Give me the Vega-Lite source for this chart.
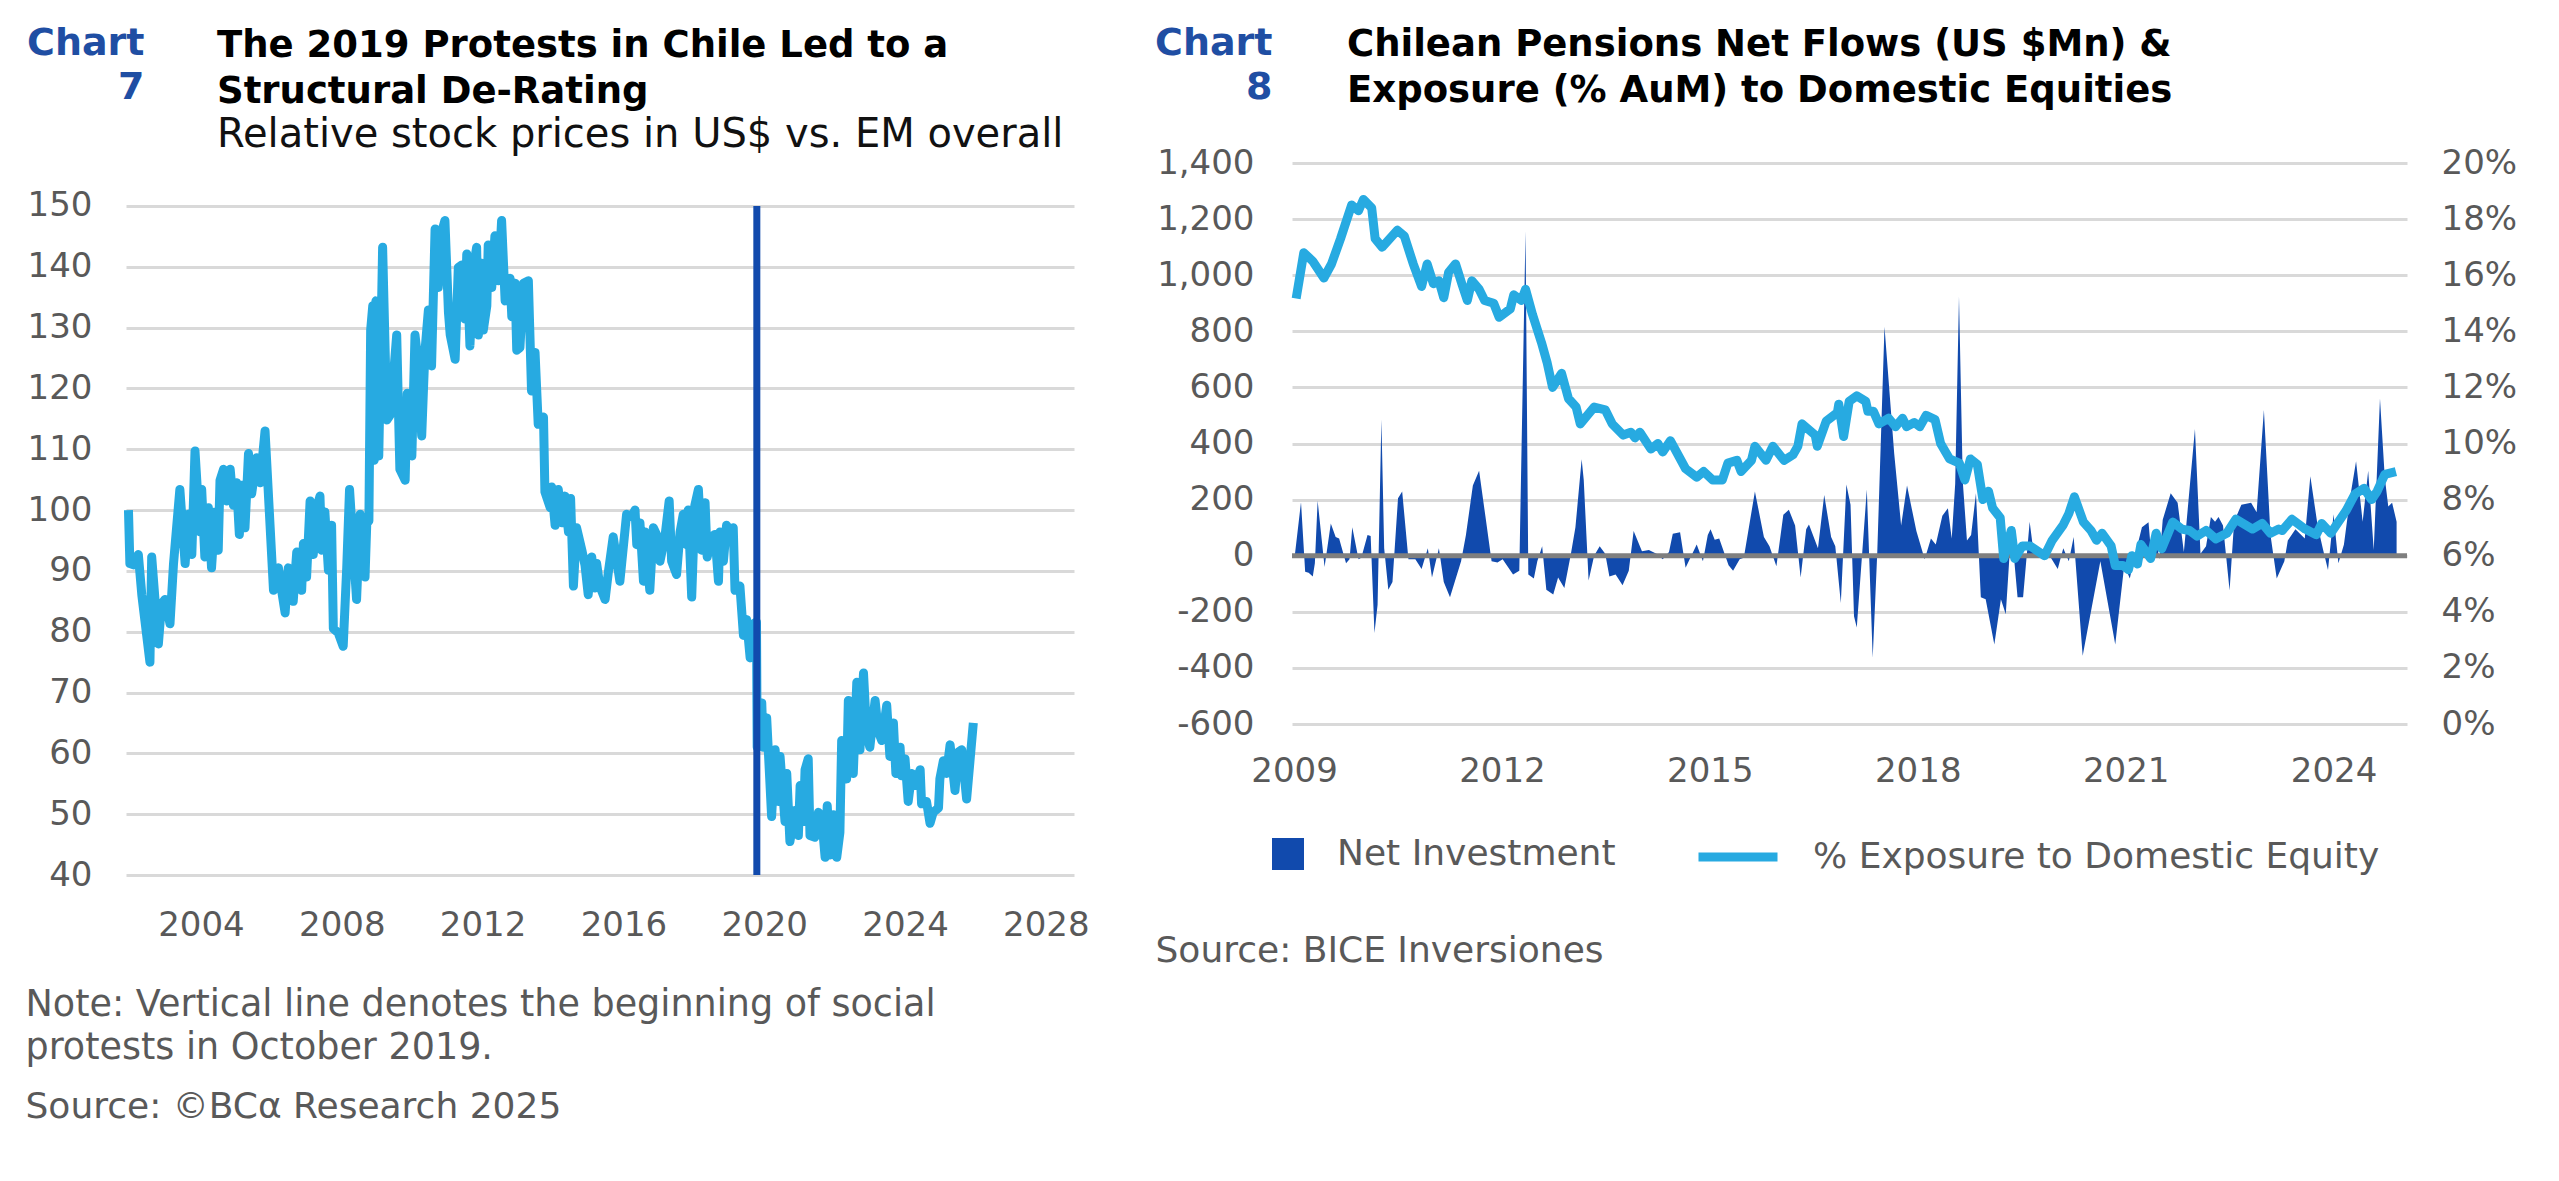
{
  "$schema": "https://vega.github.io/schema/vega-lite/v6.json",
  "background": "white",
  "padding": {"left": 25, "top": 24, "right": 10, "bottom": 10},
  "config": {
    "font": "DejaVu Sans",
    "view": {"stroke": null},
    "axis": {"labelFont": "DejaVu Sans", "labelFontSize": 34, "labelColor": "#595959", "domain": false, "ticks": false, "tickSize": 0, "grid": false, "gridColor": "#d9d9d9", "gridWidth": 3, "titleFont": "DejaVu Sans"},
    "legend": {"labelFont": "DejaVu Sans", "labelFontSize": 36, "labelColor": "#595959", "labelLimit": 2000},
    "title": {"font": "DejaVu Sans", "subtitleFont": "DejaVu Sans"}
  },
  "datasets": {
    "stock": [
      {"year":2001.94,"value":100},{"year":2001.98,"value":91.2},{"year":2002.08,"value":91},{"year":2002.22,"value":92.7},{"year":2002.32,"value":86},{"year":2002.55,"value":75},{"year":2002.6,"value":92.3},{"year":2002.79,"value":78},{"year":2002.88,"value":84.6},{"year":2002.98,"value":85.3},{"year":2003.12,"value":81.3},{"year":2003.22,"value":91.2},{"year":2003.4,"value":103.4},{"year":2003.55,"value":91.2},{"year":2003.64,"value":99.3},{"year":2003.74,"value":92.7},{"year":2003.83,"value":109.7},{"year":2003.97,"value":96.4},{"year":2004.02,"value":103.4},{"year":2004.11,"value":92.3},{"year":2004.21,"value":100.4},{"year":2004.3,"value":90.5},{"year":2004.4,"value":99.7},{"year":2004.49,"value":93.4},{"year":2004.54,"value":104.9},{"year":2004.64,"value":106.7},{"year":2004.73,"value":101.5},{"year":2004.83,"value":106.7},{"year":2004.92,"value":100.8},{"year":2005.01,"value":104.5},{"year":2005.09,"value":96},{"year":2005.16,"value":104.1},{"year":2005.25,"value":97.1},{"year":2005.35,"value":109.3},{"year":2005.44,"value":102.7},{"year":2005.58,"value":108.6},{"year":2005.68,"value":104.5},{"year":2005.82,"value":113},{"year":2006.06,"value":86.8},{"year":2006.2,"value":90.5},{"year":2006.29,"value":86.8},{"year":2006.39,"value":83.1},{"year":2006.48,"value":90.5},{"year":2006.62,"value":85},{"year":2006.72,"value":93.1},{"year":2006.86,"value":86.8},{"year":2006.91,"value":94.5},{"year":2007,"value":89},{"year":2007.1,"value":101.5},{"year":2007.19,"value":92.7},{"year":2007.29,"value":100.4},{"year":2007.38,"value":102.3},{"year":2007.43,"value":93.4},{"year":2007.52,"value":99.7},{"year":2007.62,"value":90.1},{"year":2007.71,"value":97.5},{"year":2007.76,"value":80.5},{"year":2007.9,"value":79.8},{"year":2008.04,"value":77.6},{"year":2008.14,"value":90.5},{"year":2008.22,"value":103.4},{"year":2008.42,"value":85.3},{"year":2008.52,"value":99.3},{"year":2008.66,"value":89},{"year":2008.71,"value":97.9},{"year":2008.77,"value":98.2},{"year":2008.82,"value":129.6},{"year":2008.88,"value":133.6},{"year":2008.92,"value":108.2},{"year":2008.97,"value":134.4},{"year":2009.05,"value":108.9},{"year":2009.16,"value":143.2},{"year":2009.28,"value":114.8},{"year":2009.37,"value":115.6},{"year":2009.47,"value":122.2},{"year":2009.56,"value":128.8},{"year":2009.65,"value":106.7},{"year":2009.8,"value":104.9},{"year":2009.86,"value":119.2},{"year":2009.99,"value":108.9},{"year":2010.08,"value":128.8},{"year":2010.18,"value":123.7},{"year":2010.27,"value":112.2},{"year":2010.36,"value":125.9},{"year":2010.46,"value":132.9},{"year":2010.55,"value":123.7},{"year":2010.65,"value":146.2},{"year":2010.74,"value":136.6},{"year":2010.84,"value":145.8},{"year":2010.93,"value":147.6},{"year":2011.03,"value":132.5},{"year":2011.08,"value":128.8},{"year":2011.22,"value":124.8},{"year":2011.31,"value":139.9},{"year":2011.41,"value":140.3},{"year":2011.5,"value":131.4},{"year":2011.55,"value":142.1},{"year":2011.64,"value":127},{"year":2011.74,"value":139.9},{"year":2011.83,"value":143.2},{"year":2011.88,"value":128.8},{"year":2011.97,"value":140.6},{"year":2012.02,"value":129.6},{"year":2012.12,"value":133.6},{"year":2012.16,"value":143.6},{"year":2012.26,"value":136.6},{"year":2012.35,"value":145.1},{"year":2012.45,"value":137.7},{"year":2012.54,"value":147.6},{"year":2012.64,"value":134.4},{"year":2012.78,"value":138.1},{"year":2012.83,"value":131.8},{"year":2012.92,"value":137.3},{"year":2012.97,"value":126.3},{"year":2013.06,"value":126.7},{"year":2013.16,"value":137.3},{"year":2013.3,"value":137.7},{"year":2013.39,"value":119.6},{"year":2013.49,"value":125.9},{"year":2013.58,"value":114.1},{"year":2013.73,"value":115.3},{"year":2013.77,"value":103},{"year":2013.92,"value":100.4},{"year":2013.96,"value":103.8},{"year":2014.06,"value":97.5},{"year":2014.15,"value":103.4},{"year":2014.25,"value":97.9},{"year":2014.34,"value":102.3},{"year":2014.44,"value":96.4},{"year":2014.5,"value":101.9},{"year":2014.58,"value":87.5},{"year":2014.67,"value":97.1},{"year":2014.82,"value":93.4},{"year":2014.91,"value":90.9},{"year":2015,"value":86.1},{"year":2015.1,"value":92.3},{"year":2015.19,"value":87.2},
      {"year":2015.24,"value":91.2},{"year":2015.33,"value":87.5},{"year":2015.48,"value":85.3},{"year":2015.57,"value":89.7},{"year":2015.71,"value":95.6},{"year":2015.9,"value":88.3},{"year":2016.09,"value":99.3},{"year":2016.23,"value":98.9},{"year":2016.33,"value":100},{"year":2016.38,"value":94.3},{"year":2016.47,"value":97.9},{"year":2016.57,"value":88.3},{"year":2016.61,"value":96.4},{"year":2016.75,"value":86.8},{"year":2016.85,"value":97.1},{"year":2016.94,"value":96},{"year":2017.04,"value":91.6},{"year":2017.18,"value":95.6},{"year":2017.3,"value":101.5},{"year":2017.37,"value":91.6},{"year":2017.51,"value":89.4},{"year":2017.61,"value":96.4},{"year":2017.7,"value":99.3},{"year":2017.8,"value":94.3},{"year":2017.84,"value":100},{"year":2017.94,"value":85.7},{"year":2018.03,"value":100.8},{"year":2018.13,"value":103.4},{"year":2018.22,"value":93.4},{"year":2018.32,"value":101.2},{"year":2018.38,"value":92.3},{"year":2018.51,"value":95.6},{"year":2018.6,"value":96},{"year":2018.7,"value":88.3},{"year":2018.74,"value":96.4},{"year":2018.84,"value":91.6},{"year":2018.93,"value":97.5},{"year":2019.03,"value":96.7},{"year":2019.12,"value":97.1},{"year":2019.17,"value":86.8},{"year":2019.31,"value":87.5},{"year":2019.41,"value":79.4},{"year":2019.5,"value":82},{"year":2019.6,"value":75.7},{"year":2019.69,"value":81.3},{"year":2019.78,"value":81.6},{"year":2019.8,"value":61},{"year":2019.93,"value":68.3},{"year":2019.97,"value":61},{"year":2020.07,"value":65.8},{"year":2020.21,"value":49.6},{"year":2020.31,"value":60.6},{"year":2020.4,"value":52.1},{"year":2020.45,"value":59.5},{"year":2020.59,"value":48.8},{"year":2020.64,"value":56.7},{"year":2020.73,"value":45.5},{"year":2020.87,"value":50.6},{"year":2020.97,"value":46.5},{"year":2021.02,"value":54.7},{"year":2021.11,"value":48.8},{"year":2021.16,"value":57.3},{"year":2021.25,"value":59.1},{"year":2021.3,"value":46.5},{"year":2021.44,"value":46.2},{"year":2021.54,"value":50.3},{"year":2021.63,"value":49.6},{"year":2021.73,"value":42.9},{"year":2021.79,"value":51.4},{"year":2021.87,"value":43.3},{"year":2021.96,"value":49.9},{"year":2022.06,"value":42.9},{"year":2022.15,"value":47},{"year":2022.2,"value":62.1},{"year":2022.34,"value":55.8},{"year":2022.39,"value":68.7},{"year":2022.48,"value":59.5},{"year":2022.53,"value":56.7},{"year":2022.63,"value":71.7},{"year":2022.72,"value":60.6},{"year":2022.82,"value":73.2},{"year":2022.91,"value":63.2},{"year":2023,"value":61},{"year":2023.15,"value":68.7},{"year":2023.24,"value":63.6},{"year":2023.34,"value":62.1},{"year":2023.48,"value":67.9},{"year":2023.57,"value":59.5},{"year":2023.67,"value":65},{"year":2023.74,"value":56.7},{"year":2023.86,"value":61},{"year":2023.9,"value":56.3},{"year":2024,"value":59.1},{"year":2024.09,"value":52.1},{"year":2024.19,"value":56.7},{"year":2024.28,"value":54.7},{"year":2024.43,"value":57.3},{"year":2024.47,"value":51.7},{"year":2024.61,"value":52.1},{"year":2024.71,"value":48.5},{"year":2024.8,"value":50.3},{"year":2024.95,"value":51},{"year":2024.99,"value":55.8},{"year":2025.09,"value":58.8},{"year":2025.18,"value":56.7},{"year":2025.28,"value":61.4},{"year":2025.42,"value":53.9},{"year":2025.51,"value":60.2},{"year":2025.61,"value":60.6},{"year":2025.75,"value":52.5},{"year":2025.94,"value":65}
    ],
    "events": [{"event": "Beginning of social protests", "year": 2019.79}],
    "zero": [{"level": 0}],
    "flows": [
      {"year":2009.01,"net":0},{"year":2009.1,"net":191},{"year":2009.16,"net":-57},{"year":2009.21,"net":-61},{"year":2009.27,"net":-74},{"year":2009.3,"net":-27},{"year":2009.34,"net":196},{"year":2009.4,"net":54},{"year":2009.44,"net":-40},{"year":2009.53,"net":115},{"year":2009.6,"net":67},{"year":2009.65,"net":61},{"year":2009.75,"net":-27},{"year":2009.8,"net":-13},{"year":2009.84,"net":101},{"year":2009.93,"net":-13},{"year":2009.97,"net":-7},{"year":2010.06,"net":74},{"year":2010.105,"net":70},{"year":2010.16,"net":-276},{"year":2010.205,"net":-175},{"year":2010.26,"net":486},{"year":2010.3,"net":27},{"year":2010.36,"net":-121},{"year":2010.42,"net":-94},{"year":2010.5,"net":205},{"year":2010.56,"net":229},{"year":2010.65,"net":-13},{"year":2010.75,"net":-13},{"year":2010.84,"net":-47},{"year":2010.93,"net":27},{"year":2010.99,"net":-78},{"year":2011.09,"net":27},{"year":2011.16,"net":-94},{"year":2011.25,"net":-148},{"year":2011.41,"net":-20},{"year":2011.48,"net":74},{"year":2011.58,"net":250},{"year":2011.67,"net":303},{"year":2011.76,"net":142},{"year":2011.85,"net":-20},{"year":2011.935,"net":-24},{"year":2012.01,"net":-13},{"year":2012.16,"net":-67},{"year":2012.25,"net":-54},{"year":2012.34,"net":1157},{"year":2012.38,"net":-67},{"year":2012.46,"net":-81},{"year":2012.51,"net":-20},{"year":2012.58,"net":34},{"year":2012.64,"net":-121},{"year":2012.74,"net":-138},{"year":2012.81,"net":-78},{"year":2012.9,"net":-115},{"year":2012.99,"net":0},{"year":2013.06,"net":101},{"year":2013.15,"net":344},{"year":2013.18,"net":270},{"year":2013.25,"net":-88},{"year":2013.33,"net":0},{"year":2013.41,"net":34},{"year":2013.49,"net":7},{"year":2013.55,"net":-74},{"year":2013.64,"net":-67},{"year":2013.74,"net":-105},{"year":2013.83,"net":-54},{"year":2013.9,"net":88},{"year":2014.02,"net":16},{"year":2014.12,"net":20},{"year":2014.23,"net":7},{"year":2014.32,"net":-13},{"year":2014.41,"net":13},{"year":2014.465,"net":78},{"year":2014.57,"net":84},{"year":2014.65,"net":-43},{"year":2014.81,"net":40},{"year":2014.9,"net":-20},{"year":2014.97,"net":74},{"year":2015.01,"net":94},{"year":2015.07,"net":57},{"year":2015.135,"net":61},{"year":2015.27,"net":-34},{"year":2015.335,"net":-54},{"year":2015.43,"net":-13},{"year":2015.49,"net":-7},{"year":2015.65,"net":229},{"year":2015.78,"net":67},{"year":2015.86,"net":34},{"year":2015.96,"net":-38},{"year":2016.06,"net":146},{"year":2016.14,"net":164},{"year":2016.23,"net":108},{"year":2016.31,"net":-78},{"year":2016.39,"net":94},{"year":2016.43,"net":111},{"year":2016.56,"net":27},{"year":2016.65,"net":216},{"year":2016.75,"net":67},{"year":2016.81,"net":34},{"year":2016.89,"net":-169},{"year":2016.97,"net":254},{"year":2017.03,"net":182},{"year":2017.08,"net":-216},{"year":2017.12,"net":-256},{"year":2017.265,"net":236},{"year":2017.35,"net":-364},{"year":2017.415,"net":7},{"year":2017.52,"net":816},{"year":2017.66,"net":364},{"year":2017.76,"net":108},{"year":2017.845,"net":250},{"year":2017.98,"net":88},{"year":2018.1,"net":-13},{"year":2018.19,"net":61},{"year":2018.26,"net":40},{"year":2018.355,"net":142},{"year":2018.435,"net":169},{"year":2018.49,"net":61},{"year":2018.54,"net":256},{"year":2018.595,"net":924},{"year":2018.65,"net":263},{"year":2018.71,"net":54},{"year":2018.77,"net":74},{"year":2018.84,"net":223},{"year":2018.91,"net":-148},{"year":2018.98,"net":-155},{"year":2019.105,"net":-317},{"year":2019.2,"net":-155},{"year":2019.27,"net":-209},{"year":2019.35,"net":101},{"year":2019.44,"net":-148},{"year":2019.52,"net":-148},{"year":2019.615,"net":121},{"year":2019.67,"net":13},{"year":2019.78,"net":-7},{"year":2019.91,"net":-3},{"year":2020.02,"net":-47},{"year":2020.1,"net":27},{"year":2020.18,"net":-20},{"year":2020.25,"net":67},{"year":2020.38,"net":-357},{"year":2020.635,"net":-20},{"year":2020.85,"net":-317},{"year":2020.98,"net":-34},{"year":2021.06,"net":-81},{"year":2021.12,"net":-13},{"year":2021.235,"net":101},{"year":2021.33,"net":119},{"year":2021.375,"net":-13},{"year":2021.43,"net":61},{"year":2021.49,"net":-13},{"year":2021.535,"net":128},{"year":2021.65,"net":223},{"year":2021.75,"net":189},{"year":2021.84,"net":13},{"year":2022,"net":452},{"year":2022.08,"net":7},{"year":2022.16,"net":34},{"year":2022.23,"net":138},{"year":2022.29,"net":121},{"year":2022.34,"net":138},{"year":2022.405,"net":108},{"year":2022.5,"net":-124},{"year":2022.565,"net":121},{"year":2022.67,"net":182},{"year":2022.81,"net":189},{"year":2022.89,"net":155},{"year":2022.995,"net":519},{"year":2023.09,"net":74},{"year":2023.18,"net":-81},{"year":2023.29,"net":-20},{"year":2023.34,"net":54},{"year":2023.45,"net":94},{"year":2023.585,"net":61},{"year":2023.665,"net":283},{"year":2023.77,"net":108},{"year":2023.85,"net":20},{"year":2023.92,"net":-51},{"year":2024,"net":148},{"year":2024.07,"net":-27},{"year":2024.15,"net":40},{"year":2024.24,"net":209},{"year":2024.325,"net":337},{"year":2024.42,"net":121},{"year":2024.5,"net":303},{"year":2024.58,"net":20},{"year":2024.67,"net":560},{"year":2024.74,"net":276},{"year":2024.79,"net":175},{"year":2024.845,"net":189},{"year":2024.91,"net":121}
    ],
    "exposure": [
      {"year":2009.03,"pct":15.17},{"year":2009.14,"pct":16.8},{"year":2009.27,"pct":16.5},{"year":2009.43,"pct":15.9},{"year":2009.54,"pct":16.4},{"year":2009.67,"pct":17.3},{"year":2009.83,"pct":18.5},{"year":2009.93,"pct":18.3},{"year":2010,"pct":18.7},{"year":2010.12,"pct":18.4},{"year":2010.17,"pct":17.3},{"year":2010.27,"pct":17},{"year":2010.49,"pct":17.6},{"year":2010.59,"pct":17.4},{"year":2010.72,"pct":16.4},{"year":2010.84,"pct":15.6},{"year":2010.92,"pct":16.4},{"year":2011.01,"pct":15.7},{"year":2011.09,"pct":15.8},{"year":2011.16,"pct":15.2},{"year":2011.23,"pct":16.1},{"year":2011.33,"pct":16.4},{"year":2011.42,"pct":15.7},{"year":2011.5,"pct":15.1},{"year":2011.565,"pct":15.8},{"year":2011.67,"pct":15.5},{"year":2011.75,"pct":15.1},{"year":2011.88,"pct":15},{"year":2011.96,"pct":14.5},{"year":2012.12,"pct":14.8},{"year":2012.17,"pct":15.3},{"year":2012.28,"pct":15.1},{"year":2012.34,"pct":15.5},{"year":2012.44,"pct":14.6},{"year":2012.57,"pct":13.6},{"year":2012.65,"pct":12.9},{"year":2012.73,"pct":12},{"year":2012.86,"pct":12.5},{"year":2012.96,"pct":11.6},{"year":2013.07,"pct":11.3},{"year":2013.13,"pct":10.7},{"year":2013.33,"pct":11.3},{"year":2013.49,"pct":11.2},{"year":2013.59,"pct":10.7},{"year":2013.75,"pct":10.3},{"year":2013.86,"pct":10.4},{"year":2013.92,"pct":10.2},{"year":2013.99,"pct":10.4},{"year":2014.15,"pct":9.8},{"year":2014.25,"pct":10},{"year":2014.32,"pct":9.7},{"year":2014.43,"pct":10.1},{"year":2014.65,"pct":9.1},{"year":2014.81,"pct":8.8},{"year":2014.91,"pct":9},{"year":2015.04,"pct":8.7},{"year":2015.18,"pct":8.7},{"year":2015.26,"pct":9.3},{"year":2015.39,"pct":9.4},{"year":2015.45,"pct":9},{"year":2015.6,"pct":9.4},{"year":2015.65,"pct":9.9},{"year":2015.81,"pct":9.4},{"year":2015.91,"pct":9.9},{"year":2016.07,"pct":9.4},{"year":2016.2,"pct":9.6},{"year":2016.27,"pct":9.9},{"year":2016.33,"pct":10.7},{"year":2016.52,"pct":10.3},{"year":2016.55,"pct":9.9},{"year":2016.68,"pct":10.8},{"year":2016.84,"pct":11.1},{"year":2016.86,"pct":11.4},{"year":2016.93,"pct":10.25},{"year":2017.01,"pct":11.5},{"year":2017.12,"pct":11.7},{"year":2017.25,"pct":11.5},{"year":2017.28,"pct":11.15},{"year":2017.36,"pct":11.15},{"year":2017.44,"pct":10.7},{"year":2017.58,"pct":10.9},{"year":2017.68,"pct":10.6},{"year":2017.78,"pct":10.9},{"year":2017.84,"pct":10.6},{"year":2017.95,"pct":10.75},{"year":2018.03,"pct":10.6},{"year":2018.12,"pct":11},{"year":2018.25,"pct":10.85},{"year":2018.33,"pct":10},{"year":2018.46,"pct":9.45},{"year":2018.6,"pct":9.3},{"year":2018.68,"pct":8.7},{"year":2018.76,"pct":9.45},{"year":2018.86,"pct":9.25},{"year":2018.94,"pct":8},{"year":2019.02,"pct":8.3},{"year":2019.08,"pct":7.7},{"year":2019.19,"pct":7.35},{"year":2019.24,"pct":5.9},{"year":2019.35,"pct":6.9},{"year":2019.4,"pct":5.9},{"year":2019.51,"pct":6.35},{"year":2019.62,"pct":6.35},{"year":2019.83,"pct":6},{"year":2019.94,"pct":6.55},{"year":2020.1,"pct":7.1},{"year":2020.18,"pct":7.5},{"year":2020.26,"pct":8.1},{"year":2020.39,"pct":7.2},{"year":2020.5,"pct":6.9},{"year":2020.58,"pct":6.55},{"year":2020.66,"pct":6.8},{"year":2020.79,"pct":6.35},{"year":2020.85,"pct":5.65},{"year":2020.96,"pct":5.65},{"year":2021.04,"pct":5.5},{"year":2021.09,"pct":6},{"year":2021.17,"pct":5.7},{"year":2021.22,"pct":6.4},{"year":2021.36,"pct":5.9},{"year":2021.44,"pct":6.8},{"year":2021.52,"pct":6.25},{"year":2021.68,"pct":7.2},{"year":2021.81,"pct":6.95},{"year":2021.92,"pct":6.9},{"year":2022.03,"pct":6.7},{"year":2022.16,"pct":6.9},{"year":2022.3,"pct":6.6},{"year":2022.46,"pct":6.8},{"year":2022.59,"pct":7.3},{"year":2022.83,"pct":6.95},{"year":2022.97,"pct":7.15},{"year":2023.09,"pct":6.8},{"year":2023.21,"pct":6.95},{"year":2023.26,"pct":6.9},{"year":2023.4,"pct":7.3},{"year":2023.59,"pct":6.95},{"year":2023.75,"pct":6.75},{"year":2023.83,"pct":7.15},{"year":2023.96,"pct":6.8},{"year":2024.18,"pct":7.6},{"year":2024.31,"pct":8.2},{"year":2024.44,"pct":8.4},{"year":2024.55,"pct":8},{"year":2024.63,"pct":8.3},{"year":2024.74,"pct":8.9},{"year":2024.9,"pct":9}
    ]
  },
  "bounds": "flush",
  "spacing": 218,
  "hconcat": [
    {
      "width": 948,
      "height": 712,
      "title": {
        "text": ["The 2019 Protests in Chile Led to a", "Structural De-Rating"],
        "subtitle": "Relative stock prices in US$ vs. EM overall",
        "anchor": "start", "frame": "group", "dx": 91, "dy": 132, "offset": 0,
        "fontSize": 37, "fontWeight": "bold", "color": "#000000", "lineHeight": 46,
        "subtitleFontSize": 40, "subtitleColor": "#111111", "subtitlePadding": 4
      },
      "layer": [
        {
          "data": {"name": "stock"},
          "mark": {"type": "line", "color": "#27aae1", "strokeWidth": 9, "strokeJoin": "round"},
          "encoding": {
            "x": {
              "field": "year", "type": "quantitative",
              "scale": {"domain": [2001.87, 2028.8], "nice": false, "zero": false},
              "axis": {
                "values": [2004, 2008, 2012, 2016, 2020, 2024, 2028], "format": "d", "labelPadding": 33,
                "title": ["Note: Vertical line denotes the beginning of social", "protests in October 2019."],
                "titleX": -101, "titleY": 140, "titleAlign": "left", "titleAngle": 0, "titleBaseline": "alphabetic",
                "titleFontSize": 36.5, "titleFontWeight": "normal", "titleColor": "#595959", "titleLineHeight": 43
              }
            },
            "y": {
              "field": "value", "type": "quantitative",
              "scale": {"domain": [40, 157.07], "nice": false, "zero": false},
              "axis": {
                "values": [40, 50, 60, 70, 80, 90, 100, 110, 120, 130, 140, 150], "grid": true, "labelPadding": 34,
                "title": ["Chart", "7"], "titleAngle": 0, "titleX": 18, "titleY": -109, "titleAlign": "right", "titleBaseline": "alphabetic",
                "titleFontSize": 38, "titleFontWeight": "bold", "titleColor": "#1f4ea3", "titleLineHeight": 44
              }
            }
          }
        },
        {
          "data": {"name": "events"},
          "mark": {"type": "rule", "color": "#114aad", "strokeWidth": 7},
          "encoding": {
            "x": {"field": "year", "type": "quantitative"},
            "y": {
              "datum": 40,
              "scale": {"domain": [40, 157.07], "nice": false, "zero": false},
              "axis": {
                "orient": "right", "labels": false, "grid": false,
                "title": "Source: ©BCα Research 2025", "titleAngle": 0, "titleX": -1049, "titleY": 954,
                "titleAlign": "left", "titleBaseline": "alphabetic",
                "titleFontSize": 36, "titleFontWeight": "normal", "titleColor": "#595959"
              }
            },
            "y2": {"datum": 150}
          }
        }
      ],
      "resolve": {"scale": {"y": "independent"}}
    },
    {
      "width": 1115,
      "height": 561,
      "title": {
        "text": ["Chilean Pensions Net Flows (US $Mn) &", "Exposure (% AuM) to Domestic Equities"],
        "anchor": "start", "frame": "group", "dx": 55, "dy": 86, "offset": 0,
        "fontSize": 37, "fontWeight": "bold", "color": "#000000", "lineHeight": 46
      },
      "layer": [
        {
          "layer": [
            {
              "data": {"name": "flows"},
              "mark": {"type": "area", "color": "#114aad", "interpolate": "linear"},
              "encoding": {
                "x": {
                  "field": "year", "type": "quantitative",
                  "scale": {"domain": [2008.97, 2025.06], "nice": false, "zero": false},
                  "axis": {
                    "values": [2009, 2012, 2015, 2018, 2021, 2024], "format": "d", "labelPadding": 30,
                    "title": "Source: BICE Inversiones", "titleX": -137, "titleY": 237, "titleAlign": "left", "titleAngle": 0,
                    "titleBaseline": "alphabetic", "titleFontSize": 36, "titleFontWeight": "normal", "titleColor": "#595959"
                  }
                },
                "y": {
                  "field": "net", "type": "quantitative",
                  "scale": {"domain": [-600, 1400], "nice": false, "zero": false},
                  "axis": {
                    "values": [-600, -400, -200, 0, 200, 400, 600, 800, 1000, 1200, 1400], "grid": true, "labelPadding": 38,
                    "labelExpr": "datum.value < 0 ? '-' + format(-datum.value, ',') : format(datum.value, ',')",
                    "title": ["Chart", "8"], "titleAngle": 0, "titleX": -20, "titleY": -109, "titleAlign": "right", "titleBaseline": "alphabetic",
                    "titleFontSize": 38, "titleFontWeight": "bold", "titleColor": "#1f4ea3", "titleLineHeight": 44
                  }
                },
                "fill": {
                  "datum": "Net Investment", "type": "nominal",
                  "scale": {"range": ["#114aad"]},
                  "legend": {"orient": "none", "legendX": 1144, "legendY": 673, "title": null, "symbolType": "square", "symbolSize": 1024, "symbolStrokeWidth": 0, "labelOffset": 31, "padding": 0, "labelFontSize": 36, "labelColor": "#595959", "labelLimit": 2000}
                }
              }
            },
            {
              "data": {"name": "zero"},
              "mark": {"type": "rule", "color": "#7f7f7f", "strokeWidth": 5},
              "encoding": {"y": {"field": "level", "type": "quantitative"}}
            }
          ]
        },
        {
          "data": {"name": "exposure"},
          "mark": {"type": "line", "strokeWidth": 9, "strokeJoin": "round"},
          "encoding": {
            "x": {"field": "year", "type": "quantitative"},
            "y": {
              "field": "pct", "type": "quantitative",
              "scale": {"domain": [0, 20], "nice": false, "zero": false},
              "axis": {
                "orient": "right", "values": [0, 2, 4, 6, 8, 10, 12, 14, 16, 18, 20], "labelExpr": "datum.value + '%'",
                "labelPadding": 34, "grid": false, "title": null
              }
            },
            "stroke": {
              "datum": "% Exposure to Domestic Equity", "type": "nominal",
              "scale": {"range": ["#27aae1"]},
              "legend": {"orient": "none", "legendX": 1568, "legendY": 650, "title": null, "symbolType": "stroke", "symbolSize": 6241, "symbolStrokeWidth": 9, "labelOffset": 31, "padding": 0, "labelFontSize": 36, "labelColor": "#595959", "labelLimit": 2000}
            }
          }
        }
      ],
      "resolve": {"scale": {"y": "independent"}}
    }
  ]
}
